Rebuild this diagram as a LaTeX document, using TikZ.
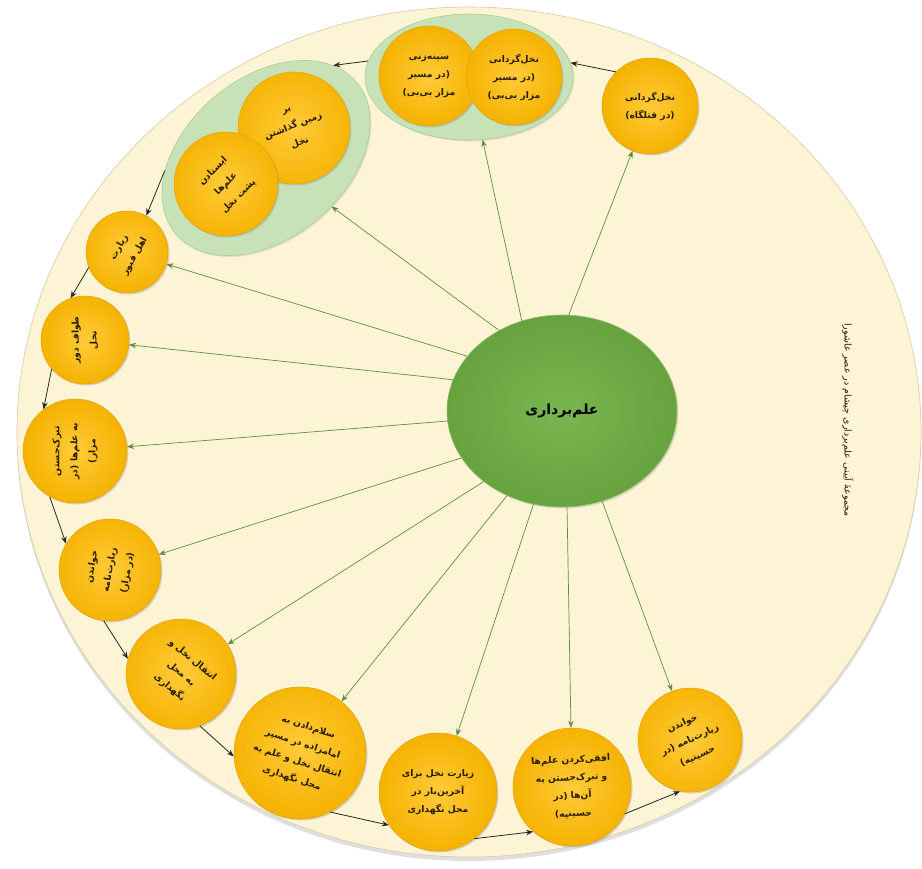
\documentclass[tikz,border=0pt]{standalone}
\usepackage{fontspec}
\usetikzlibrary{shapes.geometric,arrows.meta,shadows}
\newfontfamily\fafont[Script=Arabic]{DejaVu Sans}
\TeXXeTstate=1
\newcommand{\fa}[1]{\beginR#1\endR}
\definecolor{cream}{HTML}{FDF3D5}
\definecolor{creamedge}{HTML}{D9C9A3}
\definecolor{goldin}{HTML}{FFCB3A}
\definecolor{goldout}{HTML}{F5B200}
\definecolor{goldedge}{HTML}{E3A400}
\definecolor{grpfill}{HTML}{C8E2B8}
\definecolor{grpedge}{HTML}{A9CF93}
\definecolor{ctrin}{HTML}{7AB650}
\definecolor{ctrout}{HTML}{68A23E}
\definecolor{ctredge}{HTML}{8CC06A}
\definecolor{garrowc}{HTML}{5E8E3E}
\definecolor{txt}{HTML}{2A1C05}
\begin{document}
\begin{tikzpicture}[x=1pt,y=-1pt,
  outerbg/.style={ellipse, fill=cream, draw=creamedge, line width=0.6pt, minimum width=904pt, minimum height=850pt, inner sep=0pt,
    drop shadow={opacity=0.25, shadow xshift=0pt, shadow yshift=-4pt}},
  stepnode/.style={circle, draw=goldedge, line width=0.5pt, inner color=goldin, outer color=goldout,
    drop shadow={opacity=0.3, shadow xshift=1.5pt, shadow yshift=-1.5pt},
    font=\fafont\bfseries\fontsize{9.2}{18}\selectfont, text=txt, align=center, inner sep=0pt},
  grp/.style={ellipse, fill=grpfill, draw=grpedge, line width=0.6pt, inner sep=0pt,
    drop shadow={opacity=0.2, shadow xshift=1.5pt, shadow yshift=-1.5pt}},
  ctr/.style={ellipse, draw=ctredge, line width=0.6pt, inner color=ctrin, outer color=ctrout,
    minimum width=230pt, minimum height=192pt, inner sep=0pt,
    drop shadow={opacity=0.25, shadow xshift=1.5pt, shadow yshift=-1.5pt},
    font=\fafont\bfseries\fontsize{14}{16}\selectfont, text=black},
  titletext/.style={font=\fafont\fontsize{9.5}{11}\selectfont, text=txt},
  chain/.style={-{Stealth[length=7pt,width=5.5pt]}, line width=0.8pt, black!85},
  garrow/.style={-{Stealth[length=7pt,width=5.5pt]}, line width=0.7pt, garrowc}
]
\useasboundingbox (0,0) rectangle (922,869);
\node[outerbg] (bg) at (469,432) {};
\node[titletext, rotate=-90] (title) at (848,420) {\fa{مجموعهٔ آیینی علم‌برداری چیشام در عصر عاشورا}};

% top group
\node[grp, minimum width=208pt, minimum height=126pt] (grpT) at (469,77) {};
\node[stepnode, minimum size=100pt] (n2a) at (429,76) {\fa{سینه‌زنی}\\\fa{(در مسیر}\\\fa{مزار بی‌بی)}};
\node[stepnode, minimum size=96pt] (n2b) at (514,77) {\fa{نخل‌گردانی}\\\fa{(در مسیر}\\\fa{مزار بی‌بی)}};

% left group
\node[grp, minimum width=236pt, minimum height=160pt, rotate=40] (grpL) at (266,158) {};
\node[stepnode, minimum size=112pt, rotate=22] (n3a) at (294,128) {\fa{بر}\\\fa{زمین گذاشتن}\\\fa{نخل}};
\node[stepnode, minimum size=104pt, rotate=45] (n3b) at (226,184) {\fa{ایستادن}\\\fa{علم‌ها}\\\fa{پشت نخل}};

\node[stepnode, minimum size=96pt] (n1) at (650,106) {\fa{نخل‌گردانی}\\\fa{(در قتلگاه)}};
\node[stepnode, minimum size=82pt, rotate=60] (n4) at (127,252) {\fa{زیارت}\\\fa{اهل قبور}};
\node[stepnode, minimum size=88pt, rotate=90] (n5) at (85,340) {\fa{طواف دور}\\\fa{نخل}};
\node[stepnode, minimum size=104pt, rotate=90] (n6) at (75,451) {\fa{تبرک‌جستن}\\\fa{به علم‌ها (در}\\\fa{مزار)}};
\node[stepnode, minimum size=102pt, rotate=80] (n7) at (110,570) {\fa{خواندن}\\\fa{زیارت‌نامه}\\\fa{(در مزار)}};
\node[stepnode, minimum size=110pt, rotate=-40] (n8) at (181,674) {\fa{انتقال نخل و}\\\fa{به محل}\\\fa{نگهداری}};
\node[stepnode, minimum size=132pt, rotate=-18] (n9) at (300,753) {\fa{سلام‌دادن به}\\\fa{امامزاده در مسیر}\\\fa{انتقال نخل و علم به}\\\fa{محل نگهداری}};
\node[stepnode, minimum size=118pt] (n10) at (438,792) {\fa{زیارت نخل برای}\\\fa{آخرین‌بار در}\\\fa{محل نگهداری}};
\node[stepnode, minimum size=118pt, rotate=3] (n11) at (572,787) {\fa{افقی‌کردن علم‌ها}\\\fa{و تبرک‌جستن به}\\\fa{آن‌ها (در}\\\fa{حسینیه)}};
\node[stepnode, minimum size=104pt, rotate=25] (n12) at (690,740) {\fa{خواندن}\\\fa{زیارت‌نامه (در}\\\fa{حسینیه)}};

\node[ctr] (c) at (562,411) {\fa{علم‌برداری}};

% chain arrows
\draw[chain] (n1.135) -- (grpT.8);
\draw[chain] (grpT.171) -- (grpL.14);
\draw[chain] (grpL.147) -- (n4.2);
\draw[chain] (n4.142) -- (n5.19);
\draw[chain] (n5.131) -- (n6.37);
\draw[chain] (n6.151) -- (n7.69);
\draw[chain] (n7.183) -- (n8.204);
\draw[chain] (n8.330) -- (n9.201);
\draw[chain] (n9.315) -- (n10.214);
\draw[chain] (n10.308) -- (n11.226);
\draw[chain] (n11.330) -- (n12.234);

% green arrows
\draw[garrow] (c.86) -- (n1);
\draw[garrow] (c.114) -- (grpT);
\draw[garrow] (c.128) -- (grpL);
\draw[garrow] (c.150) -- (n4);
\draw[garrow] (c.164) -- (n5);
\draw[garrow] (c.185) -- (n6);
\draw[garrow] (c.205) -- (n7);
\draw[garrow] (c.222) -- (n8);
\draw[garrow] (c.237) -- (n9);
\draw[garrow] (c.253) -- (n10);
\draw[garrow] (c.273) -- (n11);
\draw[garrow] (c.294) -- (n12);
\end{tikzpicture}
\end{document}
